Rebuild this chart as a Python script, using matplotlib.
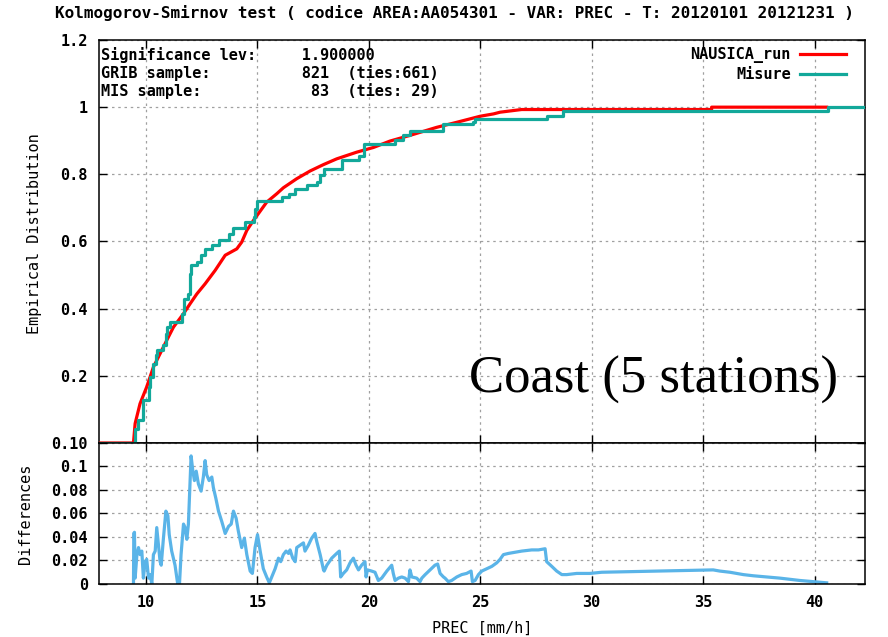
import matplotlib
matplotlib.use("Agg")
import matplotlib.pyplot as plt

plt.rcParams['font.family'] = ['DejaVu Sans Mono']
plt.rcParams['font.weight'] = 'bold'
plt.rcParams['font.size'] = 11

title = "Kolmogorov-Smirnov test ( codice AREA:AA054301 - VAR: PREC - T: 20120101 20121231 )"
info_lines = ["Significance lev:     1.900000",
              "GRIB sample:          821  (ties:661)",
              "MIS sample:            83  (ties: 29)"]

# NAUSICA_run empirical distribution (fine staircase)
red_x = [7.9, 9.445, 9.52, 9.74, 10.04, 10.34, 10.64, 10.94, 11.24, 11.69, 11.99,
         12.29, 12.66, 13.11, 13.56, 14.08, 14.30, 14.53, 14.83, 15.05, 15.42,
         15.87, 16.17, 16.77, 17.37, 17.97, 18.56, 19.46, 20.21, 20.95, 21.85,
         23.05, 23.95, 25.0, 25.6, 25.89, 26.86, 35.38, 35.38, 40.54]
red_f = [0, 0, 0.058, 0.117, 0.167, 0.226, 0.266, 0.306, 0.345, 0.385, 0.415,
         0.444, 0.474, 0.514, 0.559, 0.578, 0.598, 0.633, 0.663, 0.683, 0.717,
         0.742, 0.760, 0.787, 0.810, 0.829, 0.846, 0.866, 0.880, 0.899, 0.916,
         0.940, 0.955, 0.973, 0.980, 0.985, 0.993, 0.993, 1.0, 1.0]

# Misure empirical distribution (step positions and levels)
teal_x = [7.9, 9.52, 9.67, 9.89, 10.12, 10.19, 10.34, 10.46, 10.49, 10.79,
          10.91, 10.97, 11.09, 11.61, 11.72, 11.87, 11.99, 12.02, 12.29, 12.48,
          12.66, 12.96, 13.26, 13.71, 13.93, 14.45, 14.83, 14.90, 14.98, 16.10,
          16.40, 16.70, 17.22, 17.67, 17.82, 17.97, 18.79, 19.54, 19.79, 21.18,
          21.55, 21.85, 23.35, 24.69, 24.77, 27.98, 28.70, 40.61, 42.26]
teal_f = [0, 0.043, 0.067, 0.127, 0.167, 0.196, 0.236, 0.261, 0.276, 0.291,
          0.325, 0.345, 0.360, 0.385, 0.430, 0.444, 0.504, 0.529, 0.539, 0.559,
          0.578, 0.591, 0.605, 0.623, 0.640, 0.658, 0.673, 0.697, 0.722, 0.732,
          0.742, 0.757, 0.767, 0.777, 0.797, 0.816, 0.843, 0.856, 0.891, 0.901,
          0.916, 0.929, 0.950, 0.955, 0.965, 0.975, 0.988, 1.0, 1.0]

# Differences panel
diff_x = [9.446, 9.46, 9.49, 9.52, 9.60, 9.67, 9.74, 9.82, 9.89, 9.97, 10.04,
          10.12, 10.19, 10.27, 10.34, 10.42, 10.49, 10.57, 10.64, 10.69, 10.79,
          10.90, 10.99, 11.05, 11.16, 11.31, 11.43, 11.51, 11.58, 11.69, 11.76,
          11.84, 11.91, 11.99, 12.03, 12.11, 12.18, 12.26, 12.36, 12.48, 12.58,
          12.66, 12.73, 12.84, 12.96, 13.03, 13.14, 13.26, 13.41, 13.56, 13.71,
          13.83, 13.93, 14.05, 14.15, 14.30, 14.42, 14.53, 14.68, 14.78, 14.90,
          15.01, 15.13, 15.27, 15.42, 15.54, 15.65, 15.80, 15.95, 16.05, 16.17,
          16.29, 16.40, 16.47, 16.59, 16.70, 16.77, 16.92, 17.07, 17.14, 17.29,
          17.44, 17.59, 17.67, 17.82, 17.97, 18.00, 18.12, 18.34, 18.56, 18.68,
          18.74, 18.86, 19.01, 19.16, 19.31, 19.43, 19.54, 19.68, 19.83, 19.88,
          19.94, 20.13, 20.28, 20.43, 20.58, 20.81, 21.03, 21.10, 21.18, 21.33,
          21.48, 21.63, 21.78, 21.85, 21.93, 22.15, 22.30, 22.38, 22.53, 22.75,
          22.97, 23.09, 23.20, 23.35, 23.42, 23.57, 23.72, 23.95, 24.17, 24.39,
          24.59, 24.65, 24.77, 24.92, 25.07, 25.29, 25.52, 25.74, 25.89, 26.04,
          26.26, 26.56, 26.86, 27.31, 27.61, 27.91, 27.98, 28.21, 28.43, 28.66,
          28.88, 29.33, 29.92, 30.45, 32.91, 35.15, 35.45, 35.75, 36.20, 36.80,
          37.25, 37.85, 38.44, 39.34, 39.94, 40.54]
diff_d = [0.0, 0.043, 0.044, 0.005, 0.025, 0.031, 0.025, 0.028, 0.005, 0.019, 0.021,
          0.005, 0.008, 0.0, 0.025, 0.028, 0.048, 0.033, 0.019, 0.016, 0.039,
          0.062, 0.058, 0.042, 0.028, 0.016, 0.0, 0.0, 0.025, 0.051, 0.048,
          0.038, 0.051, 0.091, 0.109, 0.096, 0.088, 0.096, 0.085, 0.079, 0.091,
          0.105, 0.093, 0.088, 0.091, 0.082, 0.073, 0.062, 0.053, 0.043, 0.049,
          0.051, 0.062, 0.056, 0.045, 0.031, 0.039, 0.025, 0.011, 0.009, 0.031,
          0.042, 0.028, 0.013, 0.006, 0.001, 0.006, 0.013, 0.022, 0.019, 0.025,
          0.028, 0.026, 0.029, 0.022, 0.019, 0.031, 0.033, 0.035, 0.028, 0.033,
          0.039, 0.043, 0.036, 0.025, 0.012, 0.011, 0.016, 0.022, 0.026, 0.028,
          0.006, 0.009, 0.012, 0.018, 0.022, 0.016, 0.012, 0.016, 0.019, 0.006,
          0.012, 0.011, 0.010, 0.003, 0.005, 0.011, 0.016, 0.009, 0.003, 0.005,
          0.006, 0.005, 0.002, 0.012, 0.006, 0.005, 0.002, 0.005, 0.008, 0.012,
          0.016, 0.017, 0.009, 0.006, 0.005, 0.002, 0.003, 0.006, 0.008, 0.009,
          0.011, 0.002, 0.003, 0.008, 0.011, 0.013, 0.015, 0.018, 0.021, 0.025,
          0.026, 0.027, 0.028, 0.029, 0.029, 0.030, 0.019, 0.015, 0.011, 0.008,
          0.008, 0.009, 0.009, 0.010, 0.011, 0.012, 0.012, 0.011, 0.010, 0.008,
          0.007, 0.006, 0.005, 0.003, 0.002, 0.001]

x_ticks = [10, 15, 20, 25, 30, 35, 40]
top_yticks = [0, 0.2, 0.4, 0.6, 0.8, 1.0, 1.2]
top_ylabels = ["", "0.2", "0.4", "0.6", "0.8", "1", "1.2"]
bot_yticks = [0, 0.02, 0.04, 0.06, 0.08, 0.1, 0.12]
# the panel-join label reads "0.10" in the original (two labels printed on top of each other)
bot_ylabels = ["0", "0.02", "0.04", "0.06", "0.08", "0.1", "0.10"]

RED = '#ff0000'
TEAL = '#12a89a'
BLUE = '#5ab4e8'
GRID = dict(color='#a0a0a0', linestyle=(0, (2, 3)), linewidth=0.9)

fig = plt.figure(figsize=(8.88, 6.37), dpi=100)
ax1 = fig.add_axes([0.1115, 0.3046, 0.8626, 0.6326])
ax2 = fig.add_axes([0.1115, 0.0832, 0.8626, 0.2214])

for ax in (ax1, ax2):
    ax.set_xlim(7.9, 42.26)
    ax.set_xticks(x_ticks)
    ax.tick_params(direction='in', length=6, width=1.0, top=True, right=True, pad=8)
    for s in ax.spines.values():
        s.set_linewidth(1.1)
    ax.grid(True, **GRID)
    ax.set_axisbelow(True)

ax1.plot(red_x, red_f, color=RED, lw=2.3, label='NAUSICA_run', zorder=3)
ax1.plot(teal_x, teal_f, color=TEAL, lw=2.3, drawstyle='steps-post', label='Misure', zorder=4)
ax1.set_ylim(0, 1.2)
ax1.set_yticks(top_yticks)
ax1.set_yticklabels(top_ylabels)
ax1.tick_params(axis='x', labelbottom=False)
ax1.set_ylabel("Empirical Distribution")
ax1.yaxis.set_label_coords(-0.074, 0.52)

ax1.legend(loc='upper right', bbox_to_anchor=(0.975, 0.982), frameon=False,
           markerfirst=False, handlelength=3.0, handletextpad=0.6,
           borderaxespad=0, borderpad=0, labelspacing=0.25)

for i, line in enumerate(info_lines):
    ax1.text(0.003, 0.963 - i * 0.045, line, transform=ax1.transAxes,
             ha='left', va='center')

ax1.text(0.965, 0.124, "Coast (5 stations)", transform=ax1.transAxes,
         ha='right', va='baseline', fontsize=38, fontweight='normal',
         family=['Liberation Serif'])

ax2.plot(diff_x, diff_d, color=BLUE, lw=2.3)
ax2.set_ylim(0, 0.12)
ax2.set_yticks(bot_yticks)
ax2.set_yticklabels(bot_ylabels)
ax2.set_ylabel("Differences")
ax2.yaxis.set_label_coords(-0.086, 0.5)
ax2.set_xlabel("PREC [mm/h]", labelpad=8)

fig.text(0.512, 0.9796, title, ha='center', va='center', fontsize=11.5)

fig.savefig("out.png", dpi=100)
